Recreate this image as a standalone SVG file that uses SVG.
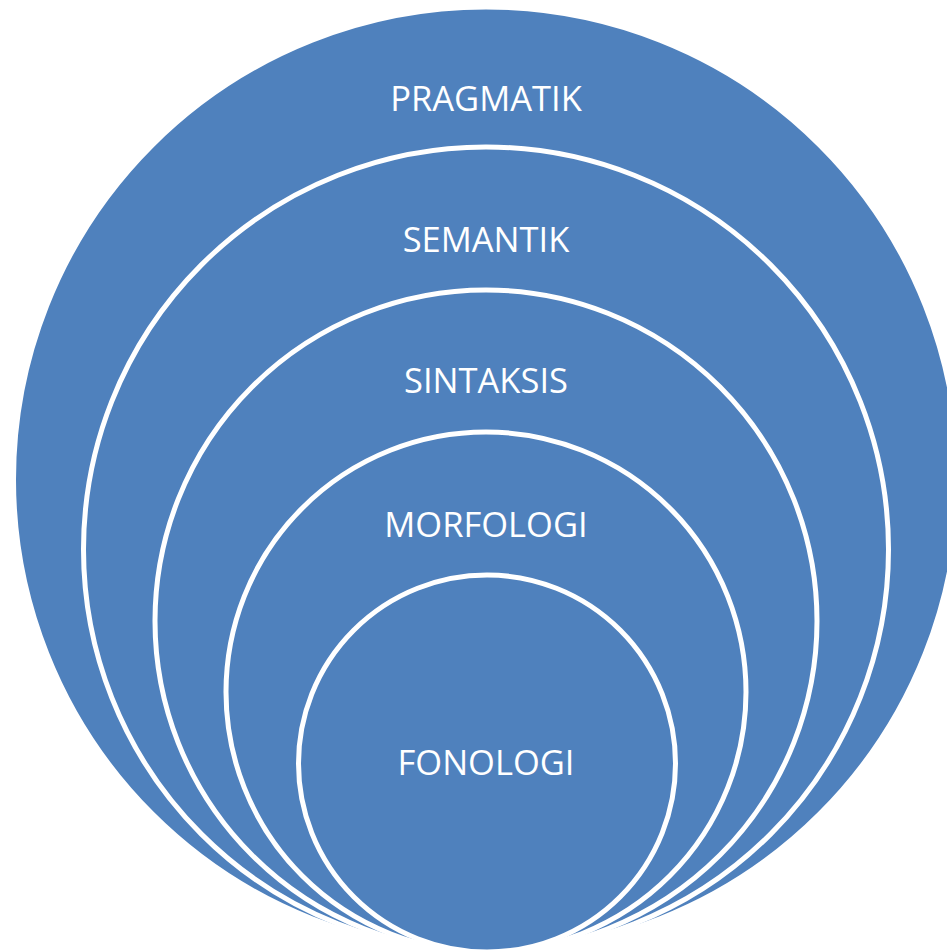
<svg xmlns="http://www.w3.org/2000/svg" width="947" height="952" viewBox="0 0 947 952">
<style>
.c{fill:#4F81BD;stroke:#FFFFFF;stroke-width:5}
.t{fill:#FFFFFF;font-family:"Open Sans","Liberation Sans",sans-serif;font-size:34.5px;text-anchor:middle}
</style>
<rect width="947" height="952" fill="#FFFFFF"/>
<g id="pragmatik"><circle class="c" cx="486" cy="479.5" r="472.5" stroke="none"/><text class="t" x="486" y="111">PRAGMATIK</text></g>
<g id="semantik"><circle class="c" cx="486" cy="549.5" r="402.5"/><text class="t" x="486" y="252">SEMANTIK</text></g>
<g id="sintaksis"><circle class="c" cx="486" cy="621" r="331"/><text class="t" x="486" y="393">SINTAKSIS</text></g>
<g id="morfologi"><circle class="c" cx="486" cy="692" r="260"/><text class="t" x="486" y="537">MORFOLOGI</text></g>
<g id="fonologi"><circle class="c" cx="487" cy="763.5" r="188.5"/><text class="t" x="486" y="775">FONOLOGI</text></g>
<g id="connectors"/>
</svg>
